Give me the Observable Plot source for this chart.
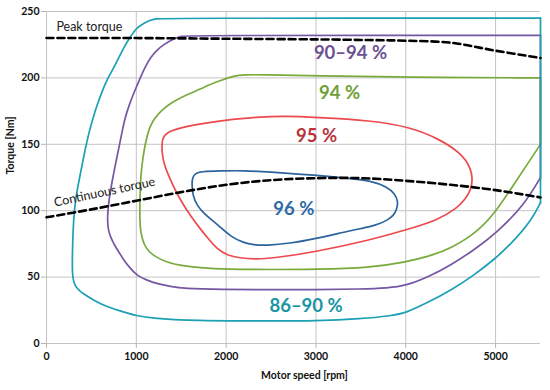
<!DOCTYPE html>
<html><head><meta charset="utf-8">
<script src="https://cdn.jsdelivr.net/npm/d3@7"></script>
<script src="https://cdn.jsdelivr.net/npm/@observablehq/plot@0.6"></script>
<style>html,body{margin:0;padding:0;background:#fff;}</style>
</head><body><div id="chart"></div>
<script>
// ---- data (rpm, torque Nm) ----
const xTicks = [0, 1000, 2000, 3000, 4000, 5000];
const yTicks = [0, 50, 100, 150, 200, 250];

const contour86_90 = [[5500,245],[1300,245],[1220,244.5],[1150,243.5],[1080,241],[1000,237.5],[935,231],[860,223],[790,213],[720,204],[676,199],[620,190],[560,179],[510,168],[470,158],[430,146],[395,134],[360,122],[330,111],[310,100],[298,88],[291,75],[287,62],[288,53],[300,46],[341,41],[415,37.2],[527,32.5],[676,27.5],[861,23.7],[1010,20.7],[1200,19],[1416,18],[1700,17.3],[2000,17],[2500,17],[3000,17],[3500,18.5],[3850,21],[4000,23],[4250,31],[4500,40],[4750,51],[5000,64],[5200,77],[5400,93],[5500,106]];
const contour90_94 = [[5500,232],[1600,232],[1500,231.5],[1418,229.5],[1300,225],[1230,221],[1158,215.5],[1100,208.5],[1047,200.5],[980,190],[917,179],[875,170],[843,160],[805,147],[768,135],[730,122],[700,110],[683,100],[678,92],[690,84],[731,77.6],[775,72],[824,67],[861,62.6],[935,56.4],[1010,51],[1121,47.6],[1232,45],[1380,43],[1529,41.3],[1938,40.6],[2500,40.5],[3000,40.5],[3500,41],[3800,41.8],[4000,43.5],[4250,50],[4500,59],[4750,70],[5000,82.6],[5316,104],[5500,125]];
const contour94 = [[5500,200],[4000,200.5],[3000,201.5],[2400,202.4],[2200,202.4],[2086,201.6],[1938,198],[1800,194.5],[1715,191.6],[1604,188.5],[1490,185],[1381,181],[1280,175.5],[1195,169],[1150,163],[1121,156.5],[1084,145],[1060,133],[1047,122.7],[1041,110],[1039,100],[1040,93],[1045,86],[1062,80],[1090,74],[1140,69],[1232,64.5],[1350,61],[1492,58.8],[1700,57],[2012,55.8],[2500,55.7],[3000,55.8],[3600,57],[4000,61.3],[4250,65.5],[4500,71.4],[4800,84],[5000,99],[5167,116],[5353,135],[5500,150]];
const contour95 = [[1286,150.3],[1292,154],[1320,157.5],[1381,160],[1492,162.5],[1715,165.5],[2086,169],[2383,170.7],[2643,171.2],[3000,170.3],[3608,168],[4053,163],[4388,153.5],[4620,143],[4725,132],[4745,124],[4725,115.5],[4660,108.5],[4573,102],[4350,92.6],[4000,85.5],[3608,78],[3000,69],[2494,64],[2327,63.6],[2150,64.3],[2012,66.5],[1900,71],[1800,79],[1715,86],[1604,96],[1500,107],[1418,117.7],[1355,127],[1310,135],[1286,143]];
const contour96 = [[1618,120],[1625,125],[1655,128],[1715,129.5],[1938,130],[2200,130.2],[2457,129.3],[3000,126.7],[3385,124.2],[3608,122.5],[3794,118],[3880,112.5],[3915,107],[3900,101],[3865,96.5],[3800,93],[3700,90],[3608,88],[3385,85],[3000,79],[2700,75.3],[2457,73.8],[2300,74.3],[2197,75.8],[2050,80.5],[1938,87.5],[1840,93],[1752,98],[1675,104],[1630,111]];

const peakTorque = [[0,230],[1000,230],[2000,229.5],[3000,229],[3600,228.5],[4000,228],[4500,226.5],[5000,220.5],[5500,215]];
const continuousTorque = [[0,95],[500,101],[1000,107.5],[1500,114],[2000,119.5],[2500,123],[3000,124.5],[3500,124.5],[4000,122.5],[4500,119.5],[5000,115.5],[5500,110]];

const effLabels = ["86–90 %", "90–94 %", "94 %", "95 %", "96 %"];
const effLabelRpm = [2890, 3385, 3263, 3006, 2754];
const effLabelTorque = [28, 219, 188.5, 156.5, 101];

const curveNames = ["Peak torque", "Continuous torque"];

// ---- styles ----
const lineColors = {c86: "#1ba0b4", c90: "#7556a3", c94: "#78aa3c", c95: "#ec4a4d", c96: "#2b639b"};
const labelColors = ["#1a95a6", "#6b5092", "#6fa036", "#b8333b", "#2f6ba4"];

const rows = (arr) => arr.map(([x, y]) => ({x, y}));
const edge = (arr) => rows([arr[arr.length - 1], arr[0]]);

const openContour = (arr, color) => [
  Plot.line(rows(arr), {x: "x", y: "y", stroke: color, strokeWidth: 1.7, curve: "basis"}),
  Plot.line(edge(arr), {x: "x", y: "y", stroke: color, strokeWidth: 1.7, curve: "linear"})
];
const closedContour = (arr, color) =>
  Plot.line(rows(arr), {x: "x", y: "y", stroke: color, strokeWidth: 1.7, curve: "basis-closed"});

const labelRows = effLabels.map((t, i) => ({t, x: effLabelRpm[i], y: effLabelTorque[i], c: labelColors[i]}));

const chart = Plot.plot({
  width: 550,
  height: 390,
  marginLeft: 46,
  marginRight: 10,
  marginTop: 11,
  marginBottom: 47,
  style: {fontFamily: "Lato, 'Open Sans', sans-serif", fontSize: "10.5px", background: "#fff", color: "#111"},
  x: {domain: [0, 5500]},
  y: {domain: [0, 250]},
  marks: [
    Plot.gridX(xTicks, {stroke: "#c4c4c4", strokeOpacity: 1, strokeWidth: 1}),
    Plot.gridY(yTicks, {stroke: "#c4c4c4", strokeOpacity: 1, strokeWidth: 1}),
    Plot.axisX(xTicks, {tickSize: 5, tickPadding: 4, stroke: "#b5b5b5", fill: "#111", fontWeight: "bold", fontSize: 10.5, label: null, tickFormat: (d) => String(d)}),
    Plot.axisY(yTicks, {tickSize: 5, tickPadding: 2, stroke: "#b5b5b5", fill: "#111", fontWeight: "bold", fontSize: 10.5, label: null, tickFormat: (d) => String(d)}),
    ...openContour(contour94, lineColors.c94),
    ...openContour(contour90_94, lineColors.c90),
    closedContour(contour95, lineColors.c95),
    closedContour(contour96, lineColors.c96),
    ...openContour(contour86_90, lineColors.c86),
    Plot.line(rows(peakTorque), {x: "x", y: "y", stroke: "#000", strokeWidth: 2.6, strokeDasharray: "7,4", curve: "catmull-rom"}),
    Plot.line(rows(continuousTorque), {x: "x", y: "y", stroke: "#000", strokeWidth: 2.6, strokeDasharray: "7,4", curve: "catmull-rom"}),
    Plot.text([curveNames[0]], {x: () => 110, y: () => 238, textAnchor: "start", fontSize: 12.5, fill: "#222"}),
    Plot.text([curveNames[1]], {x: () => 646, y: () => 114, rotate: -12, fontSize: 12.5, fill: "#222"}),
    Plot.text(labelRows, {x: "x", y: "y", text: "t", fill: "c", fontSize: 18.5, fontWeight: "bold"}),
    Plot.text(["Motor speed [rpm]"], {frameAnchor: "bottom", dy: 35, dx: 11, fontWeight: "bold", fontSize: 10.5, fill: "#111"}),
    Plot.text(["Torque [Nm]"], {frameAnchor: "left", dx: -36, dy: -3, rotate: -90, fontWeight: "bold", fontSize: 10.5, fill: "#111"})
  ]
});
document.getElementById("chart").append(chart);
</script>
</body></html>
